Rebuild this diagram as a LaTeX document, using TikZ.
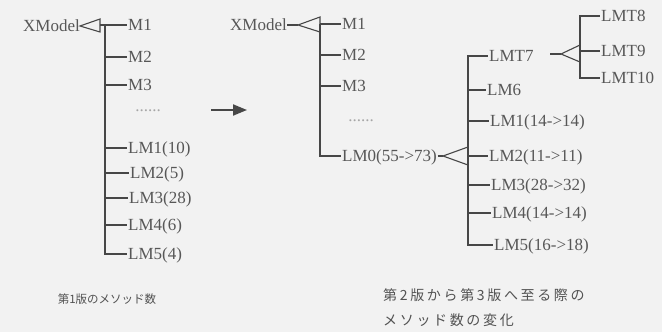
\documentclass[tikz,border=0pt]{standalone}
\usepackage{fontspec}
\setmainfont{Liberation Serif}
\newfontfamily\cjk{Noto Sans CJK JP}
\newfontfamily\cjkw[LetterSpace=19]{Noto Sans CJK JP}
\usetikzlibrary{arrows.meta}
\begin{document}
\begin{tikzpicture}[x=1pt,y=-1pt,
  lbl/.style={anchor=west, inner xsep=1pt, inner ysep=0pt, text height=11.3pt, text depth=0pt,
              font=\fontsize{17}{17}\selectfont, text=black!66},
  lble/.style={lbl, anchor=east, inner xsep=0pt},
  dots/.style={lbl, anchor=center, text=black!35},
  ln/.style={draw=black!72, line width=1.1pt},
  capa/.style={anchor=center, inner sep=0pt, font=\cjk\fontsize{11.5}{11.5}\selectfont, text=black!68},
  capb/.style={anchor=west, inner sep=0pt, font=\cjkw\fontsize{14}{14}\selectfont, text=black!68}]
\useasboundingbox[fill=black!5] (0,0) rectangle (662,332);

% ---------------- left tree ----------------
\node[lble] (x1) at (80,26) {XModel};
\coordinate (t1u) at (100,19);
\coordinate (t1d) at (100,32);
\coordinate (t1m) at (100,25);
\coordinate (tr1) at (105,25);
\node[lbl] (a1) at (127,25) {M1};
\node[lbl] (a2) at (127,57) {M2};
\node[lbl] (a3) at (127,85) {M3};
\node[dots] (ad) at (148,106) {......};
\node[lbl] (a4) at (127,148) {LM1(10)};
\node[lbl] (a5) at (129,173) {LM2(5)};
\node[lbl] (a6) at (128,198) {LM3(28)};
\node[lbl] (a7) at (127,225) {LM4(6)};
\node[lbl] (a8) at (127,254) {LM5(4)};
\draw[ln] (x1.east) -- (t1u) -- (t1d) -- cycle;
\draw[ln] (t1m) -- (a1.west);
\foreach \n in {a2,a3,a4,a5,a6,a7,a8} \draw[ln] (tr1) |- (\n.west);

% ---------------- arrow ----------------
\coordinate (ar1) at (211,110);
\coordinate (ar2) at (247,110);
\draw[draw=black!72, line width=2pt, -{Triangle[length=14pt,width=11pt]}] (ar1) -- (ar2);

% ---------------- middle tree ----------------
\node[lble] (x2) at (287,25) {XModel};
\coordinate (t2a) at (298,25);
\coordinate (t2u) at (320,17);
\coordinate (t2d) at (320,32);
\coordinate (t2m) at (320,24);
\node[lbl] (b1) at (341,24) {M1};
\node[lbl] (b2) at (341,55) {M2};
\node[lbl] (b3) at (341,86) {M3};
\node[dots] (bd) at (361,116) {......};
\node[lbl] (b4) at (341,156) {LM0(55->73)};
\draw[ln] (x2.east) -- (t2a);
\draw[ln] (t2a) -- (t2u) -- (t2d) -- cycle;
\draw[ln] (t2m) -- (b1.west);
\foreach \n in {b2,b3,b4} \draw[ln] (t2m) |- (\n.west);

% ---------------- right tree ----------------
\coordinate (t3a) at (443,156);
\coordinate (t3u) at (468,147);
\coordinate (t3d) at (468,165);
\coordinate (tr3) at (468,156);
\node[lbl] (c1) at (488,56) {LMT7};
\node[lbl] (c2) at (486,90) {LM6};
\node[lbl] (c3) at (489,121) {LM1(14->14)};
\node[lbl] (c4) at (488,156) {LM2(11->11)};
\node[lbl] (c5) at (490,185) {LM3(28->32)};
\node[lbl] (c6) at (491,213) {LM4(14->14)};
\node[lbl] (c7) at (493,245) {LM5(16->18)};
\draw[ln] (b4.east) -- (t3a);
\draw[ln] (t3a) -- (t3u) -- (t3d) -- cycle;
\foreach \n in {c1,c2,c3,c4,c5,c6,c7} \draw[ln] (tr3) |- (\n.west);

% ---------------- LMT7 subtree ----------------
\coordinate (s4) at (550,54);
\coordinate (t4a) at (561,54);
\coordinate (t4u) at (580,45);
\coordinate (t4d) at (580,62);
\coordinate (tr4) at (580,52);
\node[lbl] (d1) at (600,16) {LMT8};
\node[lbl] (d2) at (600,51) {LMT9};
\node[lbl] (d3) at (600,78) {LMT10};
\draw[ln] (s4) -- (t4a);
\draw[ln] (t4a) -- (t4u) -- (t4d) -- cycle;
\foreach \n in {d1,d2,d3} \draw[ln] (tr4) |- (\n.west);

% ---------------- captions ----------------
\node[capa] (k1) at (107,299) {第1版のメソッド数};
\node[capb] (k2) at (383,295) {第2版から第3版へ至る際の};
\node[capb] (k3) at (383,320) {メソッド数の変化};
\end{tikzpicture}
\end{document}
